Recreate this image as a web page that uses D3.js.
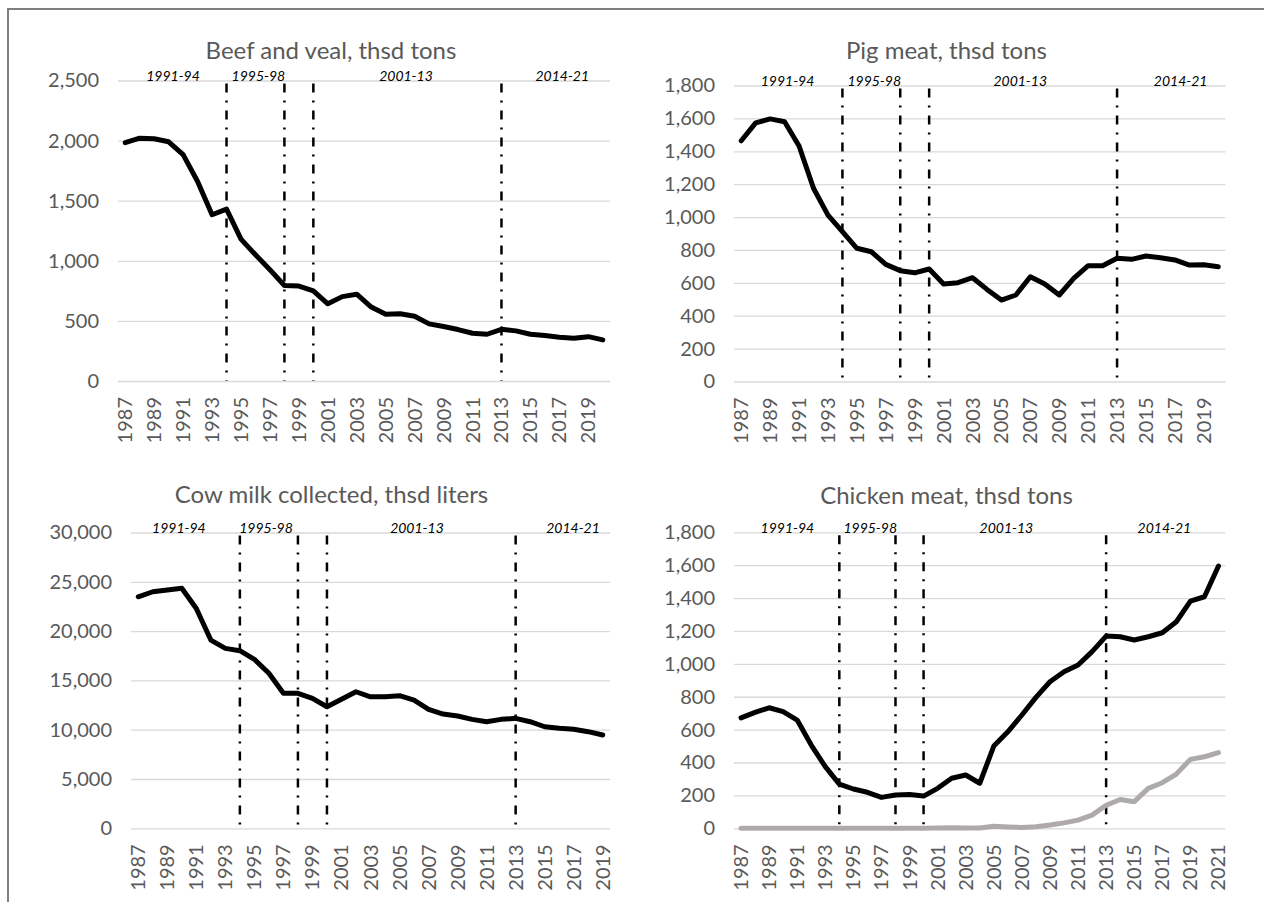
<!DOCTYPE html>
<html>
<head>
<meta charset="utf-8">
<script src="https://cdn.jsdelivr.net/npm/d3@7"></script>
<style>
  body { margin: 0; background: #fff; }
  text { font-family: Lato, "Open Sans", sans-serif; }
  .chart-title { font-size: 24px; fill: #595959; }
  .tick text { font-size: 20px; fill: #595959; }
  .period { font-size: 14px; font-style: italic; fill: #000; }
</style>
</head>
<body>
<script>
// categories
const years = [1987, 1988, 1989, 1990, 1991, 1992, 1993, 1994, 1995, 1996, 1997, 1998,
    1999, 2000, 2001, 2002, 2003, 2004, 2005, 2006, 2007, 2008, 2009, 2010, 2011, 2012,
    2013, 2014, 2015, 2016, 2017, 2018, 2019, 2020, 2021];

// series values
const beef = [1983, 2020, 2015, 1990, 1883, 1660, 1383, 1430, 1180, 1050, 925, 795,
    790, 750, 642, 702, 722, 615, 555, 560, 538, 475, 453, 428, 397, 389,
    430, 417, 389, 378, 364, 355, 369, 342];
const pig = [1464, 1573, 1597, 1580, 1432, 1175, 1012, 911, 810, 789, 712, 674,
    661, 684, 593, 601, 631, 560, 495, 526, 637, 593, 526, 627, 704, 704,
    749, 743, 763, 753, 739, 708, 710, 698];
const milk = [23480, 23990, 24160, 24340, 22300, 19090, 18250, 18010, 17140, 15720, 13690, 13690,
    13180, 12330, 13080, 13850, 13340, 13340, 13450, 13010, 12070, 11590, 11390, 11050, 10810, 11050,
    11150, 10810, 10300, 10140, 10040, 9800, 9460];
const chicken = [672, 705, 733, 709, 658, 506, 375, 269, 239, 219, 188, 202,
    206, 196, 243, 304, 324, 274, 500, 587, 689, 796, 891, 952, 993, 1074,
    1169, 1165, 1145, 1165, 1189, 1256, 1382, 1408, 1595];
const chickenGray = [0, 0, 0, 0, 0, 0, 0, 0, 0, 0, 0, 0,
    0, 1, 2, 4, 2, 2, 12, 8, 5, 10, 20, 33, 50, 80,
    140, 175, 162, 243, 277, 330, 419, 435, 460];

// tick labels
const beefTicks = [0, 500, 1000, 1500, 2000, 2500];
const meatTicks = [0, 200, 400, 600, 800, 1000, 1200, 1400, 1600, 1800];
const milkTicks = [0, 5000, 10000, 15000, 20000, 25000, 30000];

// policy periods
const periodBreaks = [1994, 1998, 2000, 2013];
const periodNames = ["1991-94", "1995-98", "2001-13", "2014-21"];

const svg = d3.select("body")
    .append("svg")
    .attr("width", 1264)
    .attr("height", 902);

svg.append("rect")
    .attr("width", 1264)
    .attr("height", 902)
    .attr("fill", "#fff");

// outer frame (only top and left edges are visible)
svg.append("rect")
    .attr("x", 8)
    .attr("y", 9)
    .attr("width", 1400)
    .attr("height", 1000)
    .attr("fill", "none")
    .attr("stroke", "#7f7f7f")
    .attr("stroke-width", 2);

const panels = [
    { title: "Beef and veal, thsd tons", series: [beef], colors: ["#000"], ticks: beefTicks,
      left: 118, right: 610, top: 80.5, bottom: 381, titleX: 331, titleY: 59,
      labelAt: [1990.3, 1996.2, 2006.4, 2017.2] },
    { title: "Pig meat, thsd tons", series: [pig], colors: ["#000"], ticks: meatTicks,
      left: 734, right: 1225.5, top: 85.5, bottom: 381.5, titleX: 946.5, titleY: 59,
      labelAt: [1990.2, 1996.2, 2006.3, 2017.4] },
    { title: "Cow milk collected, thsd liters", series: [milk], colors: ["#000"], ticks: milkTicks,
      left: 131, right: 610, top: 532.5, bottom: 828.3, titleX: 331.5, titleY: 503,
      labelAt: [1989.8, 1995.8, 2006.2, 2016.95] },
    { title: "Chicken meat, thsd tons", series: [chickenGray, chicken], colors: ["#aeaaaa", "#000"], ticks: meatTicks,
      left: 734, right: 1225.5, top: 532.3, bottom: 828.3, titleX: 946.5, titleY: 504,
      labelAt: [1990.3, 1996.2, 2005.9, 2017.15] }
];

panels.forEach(drawPanel);

function drawPanel(p) {
    const cats = years.slice(0, p.series[0].length);
    const g = svg.append("g");

    // X band scale, one band per year
    const x = d3.scaleBand()
        .domain(cats)
        .range([p.left, p.right]);
    const half = x.bandwidth() / 2;

    // Y scale
    const y = d3.scaleLinear()
        .domain([0, d3.max(p.ticks)])
        .range([p.bottom, p.top]);

    // gridlines + y labels
    g.append("g")
        .attr("transform", `translate(${p.left},0)`)
        .call(d3.axisLeft(y).tickValues(p.ticks).tickFormat(d3.format(","))
            .tickSize(-(p.right - p.left)).tickPadding(19))
        .call(a => a.select(".domain").remove())
        .call(a => a.selectAll(".tick line").attr("stroke", "#d9d9d9").attr("stroke-width", 1.3));

    // x labels, every second year, rotated
    g.append("g")
        .attr("transform", `translate(0,${p.bottom})`)
        .call(d3.axisBottom(x).tickValues(cats.filter((d, i) => i % 2 === 0)).tickSize(0))
        .call(a => a.select(".domain").remove())
        .selectAll("text")
        .attr("transform", "rotate(-90)")
        .attr("text-anchor", "end")
        .attr("x", -16)
        .attr("y", 0)
        .attr("dy", "0.35em");

    // period separators
    g.append("g")
        .selectAll("line")
        .data(periodBreaks)
        .join("line")
        .attr("x1", d => x(d) + half)
        .attr("x2", d => x(d) + half)
        .attr("y1", p.top + 3)
        .attr("y2", p.bottom)
        .attr("stroke", "#000")
        .attr("stroke-width", 2.5)
        .attr("stroke-dasharray", "9,8,2,8");

    // period labels
    const pos = d3.scaleLinear()
        .domain([cats[0], cats[cats.length - 1]])
        .range([x(cats[0]) + half, x(cats[cats.length - 1]) + half]);
    g.append("g")
        .selectAll("text")
        .data(periodNames)
        .join("text")
        .attr("class", "period")
        .attr("x", (d, i) => pos(p.labelAt[i]))
        .attr("y", p.top + 0.5)
        .attr("text-anchor", "middle")
        .text(d => d);

    // series lines
    const line = d3.line()
        .x((d, i) => x(cats[i]) + half)
        .y(d => y(d));
    p.series.forEach((s, k) => {
        g.append("path")
            .datum(s)
            .attr("fill", "none")
            .attr("stroke", p.colors[k])
            .attr("stroke-width", 5)
            .attr("stroke-linejoin", "round")
            .attr("stroke-linecap", "round")
            .attr("d", line);
    });

    // title
    g.append("text")
        .attr("class", "chart-title")
        .attr("x", p.titleX)
        .attr("y", p.titleY)
        .attr("text-anchor", "middle")
        .text(p.title);
}
</script>
</body>
</html>
